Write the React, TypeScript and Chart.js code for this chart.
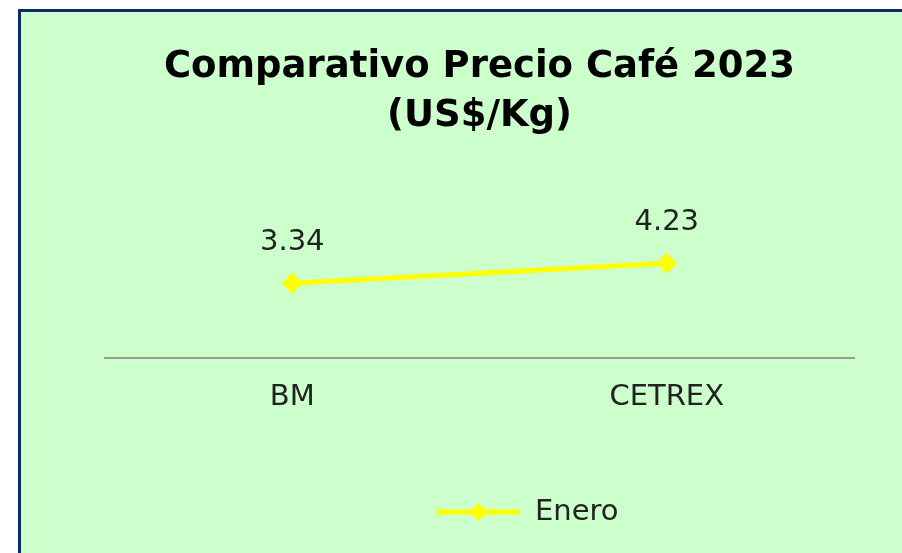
import React, { useEffect, useRef } from "react";
import { Chart, registerables } from "chart.js";

Chart.register(...registerables);

// ---- Data ----
const categories: string[] = ["BM", "CETREX"];
const seriesName = "Enero";
const eneroValues: number[] = [3.34, 4.23];
const titleLines: string[] = ["Comparativo Precio Café 2023", "(US$/Kg)"];
const yMin = 0;
const yMax = 5;

const FONT = "'DejaVu Sans', 'Open Sans', sans-serif";
const LINE_COLOR = "#FFFF00";
const TEXT_COLOR = "#222222";

function makeLegendIcon(): HTMLCanvasElement {
  const c = document.createElement("canvas");
  c.width = 180;
  c.height = 22;
  const ctx = c.getContext("2d")!;
  ctx.strokeStyle = LINE_COLOR;
  ctx.lineWidth = 5;
  ctx.beginPath();
  ctx.moveTo(96, 11);
  ctx.lineTo(180, 11);
  ctx.stroke();
  ctx.fillStyle = LINE_COLOR;
  ctx.beginPath();
  ctx.moveTo(128, 11);
  ctx.lineTo(138, 2);
  ctx.lineTo(148, 11);
  ctx.lineTo(138, 20);
  ctx.closePath();
  ctx.fill();
  return c;
}

const valueLabels = {
  id: "valueLabels",
  afterDatasetsDraw(chart: any) {
    const ctx = chart.ctx;
    chart.data.datasets.forEach((ds: any, i: number) => {
      const meta = chart.getDatasetMeta(i);
      meta.data.forEach((pt: any, j: number) => {
        ctx.save();
        ctx.font = `29px ${FONT}`;
        ctx.fillStyle = TEXT_COLOR;
        ctx.textAlign = "center";
        ctx.textBaseline = "middle";
        ctx.fillText(Number(ds.data[j]).toFixed(2), pt.x, pt.y - 41);
        ctx.restore();
      });
    });
  },
};

export default function App() {
  const canvasRef = useRef<HTMLCanvasElement | null>(null);

  useEffect(() => {
    if (!canvasRef.current) return;
    const icon = makeLegendIcon();
    const chart = new Chart(canvasRef.current, {
      type: "line",
      data: {
        labels: categories,
        datasets: [
          {
            label: seriesName,
            data: eneroValues,
            borderColor: LINE_COLOR,
            backgroundColor: LINE_COLOR,
            borderWidth: 5,
            pointStyle: "rectRot",
            pointRadius: 10,
            pointBorderWidth: 1,
            pointBackgroundColor: LINE_COLOR,
            pointBorderColor: LINE_COLOR,
            tension: 0,
            fill: false,
          },
        ],
      },
      options: {
        responsive: false,
        animation: false,
        devicePixelRatio: 1,
        layout: { padding: { top: 0, bottom: 16.5, left: 105, right: 48 } },
        plugins: {
          title: {
            display: true,
            text: titleLines,
            color: "#000000",
            font: { family: FONT, size: 37, weight: "bold", lineHeight: 1.338 },
            padding: { top: 42.25, bottom: 104.75 },
          },
          legend: {
            position: "bottom",
            labels: {
              usePointStyle: true,
              pointStyle: icon as any,
              pointStyleWidth: 180,
              font: { family: FONT, size: 29 },
              color: TEXT_COLOR,
              padding: 10,
            },
          },
          tooltip: { enabled: false },
        },
        scales: {
          x: {
            offset: true,
            grid: { display: false, drawTicks: false },
            border: { display: true, color: "#9a9a9a", width: 2 },
            ticks: { font: { family: FONT, size: 29 }, color: TEXT_COLOR, padding: 22 },
            afterFit: (s: any) => {
              s.height = 129.5;
            },
          },
          y: { display: false, min: yMin, max: yMax },
        },
      },
      plugins: [valueLabels],
    } as any);
    return () => chart.destroy();
  }, []);

  return (
    <div
      style={{
        position: "fixed",
        left: 0,
        top: 0,
        width: 902,
        height: 553,
        overflow: "hidden",
        background: "#ffffff",
      }}
    >
      <div
        style={{
          position: "absolute",
          left: 18,
          top: 9,
          width: 900,
          height: 570,
          boxSizing: "border-box",
          border: "3.5px solid #0B2A66",
          background: "#CCFFCC",
        }}
      />
      <canvas
        ref={canvasRef}
        width={902}
        height={553}
        style={{ position: "absolute", left: 0, top: 0, width: 902, height: 553, display: "block" }}
      />
    </div>
  );
}
